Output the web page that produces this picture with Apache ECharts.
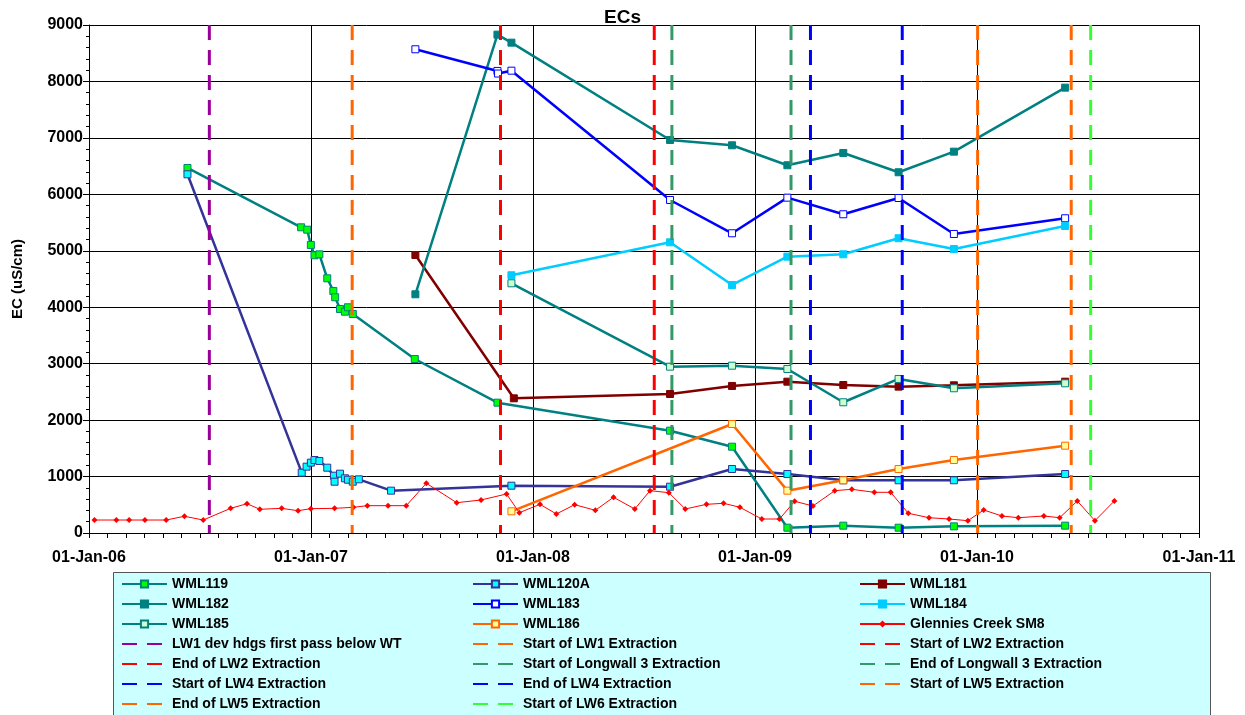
<!DOCTYPE html>
<html>
<head>
<meta charset="utf-8">
<title>ECs</title>
<script src="https://cdn.jsdelivr.net/npm/echarts@6/dist/echarts.min.js"></script>
<style>
  html, body { margin: 0; padding: 0; background: #fff; }
  #chart { width: 1245px; height: 715px; }
</style>
</head>
<body>
<div id="chart"></div>
<script>
// sample rounds shared by most bores (Aug 08 .. May 10)
var sampleDates = ['2008-08-14', '2008-11-24', '2009-02-23', '2009-05-26', '2009-08-25', '2009-11-24', '2010-05-26'];

var wml119Dates = ['2006-06-12', '2006-12-16', '2006-12-26', '2007-01-01', '2007-01-07', '2007-01-15', '2007-01-28',
  '2007-02-07', '2007-02-10', '2007-02-18', '2007-02-26', '2007-03-03', '2007-03-11', '2007-06-21', '2007-11-04'].concat(sampleDates);
var wml119Values = [6467, 5416, 5374, 5103, 4920, 4937, 4512, 4288, 4176, 3969, 3921, 3999, 3880, 3083, 2309,
  1813, 1529, 94, 130, 94, 118, 130];

var wml120aDates = ['2006-06-12', '2006-12-17', '2006-12-25', '2007-01-01', '2007-01-07', '2007-01-15', '2007-01-28',
  '2007-02-08', '2007-02-09', '2007-02-18', '2007-02-26', '2007-03-03', '2007-03-11', '2007-03-21', '2007-05-13', '2007-11-27'].concat(sampleDates);
var wml120aValues = [6355, 1069, 1175, 1246, 1293, 1276, 1157, 1015, 909, 1051, 969, 944, 909, 951, 750, 838,
  820, 1134, 1045, 934, 934, 934, 1045];

var wml181Dates = ['2007-06-22', '2007-12-01'].concat(sampleDates);
var wml181Values = [4925, 2386, 2463, 2605, 2681, 2622, 2593, 2617, 2681];

var wml182Dates = ['2007-06-22', '2007-11-04', '2007-11-27'].concat(sampleDates);
var wml182Values = [4229, 8829, 8687, 6963, 6869, 6515, 6733, 6391, 6756, 7890];

var wml183Dates = ['2007-06-22', '2007-11-04', '2007-11-05', '2007-11-27'].concat(sampleDates);
var wml183Values = [8570, 8186, 8140, 8191, 5900, 5310, 5941, 5647, 5935, 5298, 5576];

var wml184Dates = ['2007-11-27'].concat(sampleDates);
var wml184Values = [4566, 5150, 4394, 4896, 4938, 5222, 5032, 5439];

var wml185Dates = ['2007-11-27'].concat(sampleDates);
var wml185Values = [4424, 2947, 2964, 2906, 2316, 2729, 2564, 2652];

var wml186Dates = ['2007-11-27', '2008-11-24', '2009-02-23', '2009-05-26', '2009-08-25', '2009-11-24', '2010-05-26'];
var wml186Values = [384, 1931, 750, 934, 1134, 1293, 1547];

var sm8Dates = ['2006-01-10', '2006-02-15', '2006-03-08', '2006-04-03', '2006-05-08', '2006-06-07', '2006-07-08',
  '2006-08-22', '2006-09-18', '2006-10-09', '2006-11-14', '2006-12-11', '2007-01-01', '2007-02-09', '2007-03-12',
  '2007-04-04', '2007-05-08', '2007-06-07', '2007-07-10', '2007-08-29', '2007-10-08', '2007-11-19', '2007-12-10',
  '2008-01-13', '2008-02-09', '2008-03-10', '2008-04-13', '2008-05-13', '2008-06-17', '2008-07-12', '2008-08-12',
  '2008-09-08', '2008-10-13', '2008-11-10', '2008-12-07', '2009-01-12', '2009-02-10', '2009-03-07', '2009-04-06',
  '2009-05-12', '2009-06-09', '2009-07-16', '2009-08-12', '2009-09-10', '2009-10-14', '2009-11-16', '2009-12-17',
  '2010-01-12', '2010-02-11', '2010-03-10', '2010-04-21', '2010-05-17', '2010-06-15', '2010-07-14', '2010-08-15'];
var sm8Values = [230, 230, 230, 230, 230, 296, 230, 437, 519, 420, 437, 395, 431, 437, 455,
  484, 484, 484, 881, 537, 585, 691, 360, 508, 337, 502, 402, 633, 425, 750, 714,
  425, 508, 526, 455, 248, 248, 562, 478, 750, 774, 721, 721, 349, 271, 248, 218,
  408, 301, 271, 301, 271, 567, 218, 567];

// mining events (vertical dashed markers)
var eventNames = ['LW1 dev hdgs first pass below WT', 'Start of LW1 Extraction', 'Start of LW2 Extraction',
  'End of LW2 Extraction', 'Start of Longwall 3 Extraction', 'End of Longwall 3 Extraction',
  'Start of LW4 Extraction', 'End of LW4 Extraction', 'Start of LW5 Extraction',
  'End of LW5 Extraction', 'Start of LW6 Extraction'];
var eventDates = ['2006-07-18', '2007-03-10', '2007-11-09', '2008-07-19', '2008-08-17', '2009-03-01',
  '2009-04-02', '2009-08-31', '2010-01-02', '2010-06-05', '2010-07-07'];
var eventColors = ['#990099', '#FF6600', '#FF0000', '#FF0000', '#339966', '#339966',
  '#0000FF', '#0000FF', '#FF6600', '#FF6600', '#33FF33'];

var yTop = 9000;

// days since 1970 -> 2006-01-01 is 13149 = 36 * 365.25
function toDay(s) {
  var p = s.split('-');
  return Date.UTC(+p[0], +p[1] - 1, +p[2]) / 86400000;
}
function pair(dates, values) {
  return dates.map(function (d, i) { return [toDay(d), values[i]]; });
}

function well(name, dates, values, line, fill, border, width) {
  return {
    name: name,
    type: 'line',
    data: pair(dates, values),
    symbol: 'rect',
    symbolSize: 7,
    lineStyle: { color: line, width: width || 2.5 },
    itemStyle: { color: fill, borderColor: border, borderWidth: 1 },
    emphasis: { disabled: true },
    z: 3
  };
}

var series = [
  well('WML119', wml119Dates, wml119Values, '#008080', '#00FF00', '#008080'),
  well('WML120A', wml120aDates, wml120aValues, '#333399', '#00FFFF', '#333399'),
  well('WML181', wml181Dates, wml181Values, '#800000', '#800000', '#800000'),
  well('WML182', wml182Dates, wml182Values, '#008080', '#008080', '#008080'),
  well('WML183', wml183Dates, wml183Values, '#0000FF', '#FFFFFF', '#0000FF'),
  well('WML184', wml184Dates, wml184Values, '#00CCFF', '#00CCFF', '#00CCFF'),
  well('WML185', wml185Dates, wml185Values, '#008080', '#CCFFCC', '#008080'),
  well('WML186', wml186Dates, wml186Values, '#FF6600', '#FFFF99', '#FF6600'),
  {
    name: 'Glennies Creek SM8',
    type: 'line',
    data: pair(sm8Dates, sm8Values),
    symbol: 'diamond',
    symbolSize: 6,
    lineStyle: { color: '#FF0000', width: 1 },
    itemStyle: { color: '#FF0000' },
    z: 3
  }
];

eventNames.forEach(function (n, i) {
  var d = toDay(eventDates[i]);
  series.push({
    name: n,
    type: 'line',
    data: [[d, yTop], [d, 0]],
    symbol: 'none',
    lineStyle: { color: eventColors[i], width: 3, type: [15, 10] },
    // opacity 0 hides the dot echarts puts in the legend icon
    itemStyle: { color: eventColors[i], opacity: 0 },
    z: 4
  });
});

var legendBase = {
  orient: 'vertical',
  top: 577,
  padding: 0,
  itemWidth: 45,
  itemHeight: 9,
  itemGap: 6,
  selectedMode: false,
  textStyle: { fontFamily: 'Liberation Sans', fontWeight: 'bold', fontSize: 14, lineHeight: 14, color: '#000' },
  z: 5
};
function legendCol(left, names) {
  return Object.assign({}, legendBase, { left: left, data: names });
}

var myChart = echarts.init(document.getElementById('chart'));
myChart.setOption({
  animation: false,
  textStyle: { fontFamily: 'Liberation Sans' },
  title: {
    text: 'ECs',
    left: 'center',
    top: 3,
    textStyle: { fontFamily: 'Liberation Sans', fontWeight: 'bold', fontSize: 19, color: '#000' }
  },
  grid: { left: 89, right: 46, top: 25, bottom: 182 },
  graphic: [{
    type: 'rect',
    z: 0,
    shape: { x: 113.5, y: 572.5, width: 1097, height: 160 },
    style: { fill: '#CCFFFF', stroke: '#555', lineWidth: 1 }
  }],
  legend: [
    legendCol(121, ['WML119', 'WML182', 'WML185', eventNames[0], eventNames[3], eventNames[6], eventNames[9]]),
    legendCol(472, ['WML120A', 'WML183', 'WML186', eventNames[1], eventNames[4], eventNames[7], eventNames[10]]),
    legendCol(859, ['WML181', 'WML184', 'Glennies Creek SM8', eventNames[2], eventNames[5], eventNames[8]])
  ],
  xAxis: {
    type: 'value',
    min: 13149,
    max: 14975.25,
    interval: 365.25,
    axisLine: { lineStyle: { color: '#000', width: 1 } },
    axisTick: { length: 5, lineStyle: { color: '#000' } },
    minorTick: { show: true, splitNumber: 12, length: 5, lineStyle: { color: '#000' } },
    splitLine: { show: true, lineStyle: { color: '#000', width: 1 } },
    axisLabel: {
      margin: 17,
      fontFamily: 'Liberation Sans', fontWeight: 'bold', fontSize: 16, color: '#000',
      formatter: function (v) {
        var yr = Math.round(v / 365.25 + 1970);
        return '01-Jan-' + String(yr).slice(2);
      }
    }
  },
  yAxis: {
    type: 'value',
    min: 0,
    max: yTop,
    interval: 1000,
    name: 'EC (uS/cm)',
    nameLocation: 'middle',
    nameRotate: 90,
    nameGap: 64,
    nameTextStyle: { fontFamily: 'Liberation Sans', fontWeight: 'bold', fontSize: 15, color: '#000' },
    axisLine: { show: true, lineStyle: { color: '#000', width: 1 } },
    axisTick: { show: true, length: 6, lineStyle: { color: '#000' } },
    minorTick: { show: true, splitNumber: 5, length: 3, lineStyle: { color: '#000' } },
    splitLine: { show: true, lineStyle: { color: '#000', width: 1 } },
    axisLabel: {
      margin: 6, fontFamily: 'Liberation Sans', fontWeight: 'bold', fontSize: 16, color: '#000',
      formatter: function (v) { return String(v); }
    }
  },
  series: series
});
</script>
</body>
</html>
